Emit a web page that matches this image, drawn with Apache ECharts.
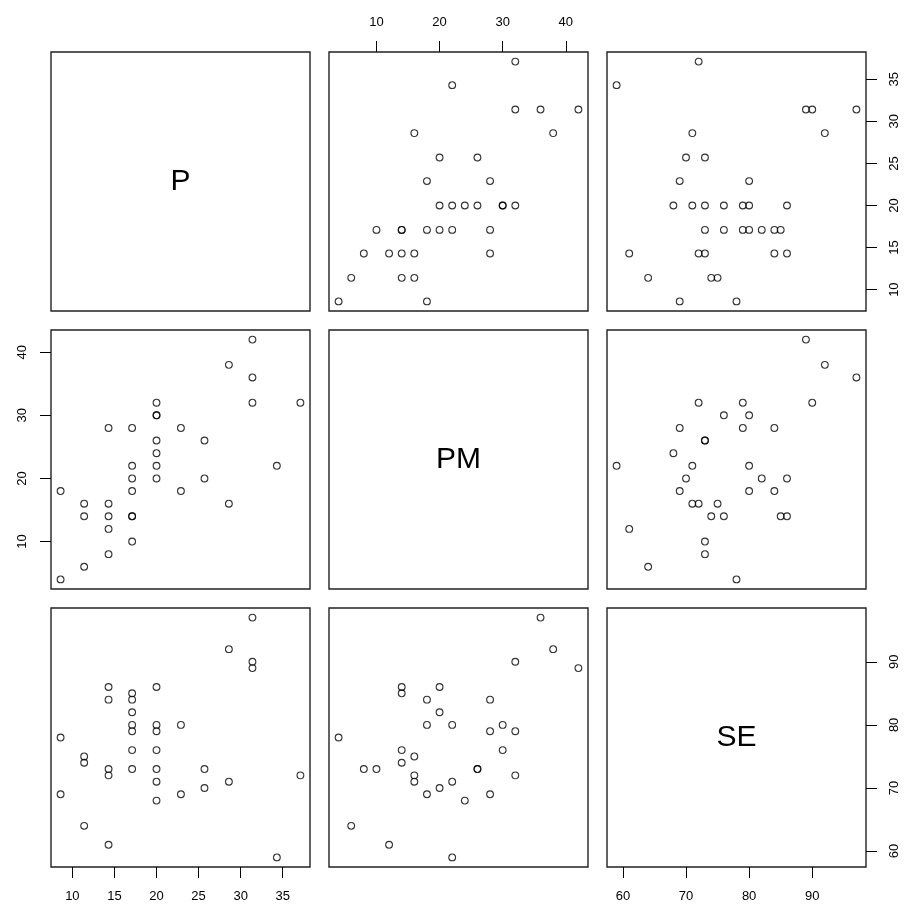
<!DOCTYPE html>
<html>
<head>
<meta charset="utf-8">
<script src="https://cdn.jsdelivr.net/npm/echarts@6/dist/echarts.min.js"></script>
<style>
html,body{margin:0;padding:0;background:#fff;}
#chart{width:905px;height:905px;}
</style>
</head>
<body>
<div id="chart"></div>
<script>
// Data (one row per observation)
const P  = [8.6, 8.6, 11.4, 11.4, 11.4, 14.3, 14.3, 14.3, 14.3, 14.3,
            17.1, 17.1, 17.1, 17.1, 17.1, 17.1, 17.1, 20, 20, 20,
            20, 20, 20, 20, 22.9, 22.9, 25.7, 25.7, 28.6, 28.6,
            31.4, 31.4, 31.4, 34.3, 37.1];
const PM = [4, 18, 6, 16, 14, 12, 8, 28, 14, 16,
            10, 14, 18, 20, 22, 28, 14, 24, 26, 32,
            20, 22, 30, 30, 28, 18, 26, 20, 38, 16,
            36, 32, 42, 22, 32];
const SE = [78, 69, 64, 75, 74, 61, 73, 84, 86, 72,
            73, 85, 84, 82, 80, 79, 76, 68, 73, 79,
            86, 71, 80, 76, 69, 80, 73, 70, 92, 71,
            97, 90, 89, 59, 72];
const varNames = ['P', 'PM', 'SE'];
const P_TICKS  = [10, 15, 20, 25, 30, 35];
const PM_TICKS = [10, 20, 30, 40];
const SE_TICKS = [60, 70, 80, 90];

const vars = [P, PM, SE];
const ticks = [P_TICKS, PM_TICKS, SE_TICKS];

// layout
const colLeft = [51, 329, 607];
const rowTop = [52, 330, 608];
const size = 259;
const FONT = 'Liberation Sans, Arial, sans-serif';

function range(arr) {
  const lo = Math.min(...arr), hi = Math.max(...arr);
  const pad = (hi - lo) * 0.04;
  return [lo - pad, hi + pad];
}
const ranges = vars.map(range);

const grid = [], xAxis = [], yAxis = [], series = [], graphic = [];
for (let r = 0; r < 3; r++) {
  for (let c = 0; c < 3; c++) {
    const idx = r * 3 + c;
    grid.push({
      left: colLeft[c], top: rowTop[r], width: size, height: size,
      show: true, borderColor: '#222', borderWidth: 1.4, backgroundColor: 'transparent'
    });
    const showX = (r === 2 && c !== 1) || (r === 0 && c === 1);
    const showY = (c === 2 && r !== 1) || (c === 0 && r === 1);
    xAxis.push({
      gridIndex: idx, type: 'value',
      min: ranges[c][0], max: ranges[c][1],
      position: r === 0 ? 'top' : 'bottom',
      axisLine: { show: false },
      splitLine: { show: false },
      axisTick: { show: showX, customValues: ticks[c], length: 11, lineStyle: { color: '#000', width: 1 } },
      axisLabel: { show: showX, customValues: ticks[c], margin: 23, fontSize: 13, color: '#000', fontFamily: FONT }
    });
    yAxis.push({
      gridIndex: idx, type: 'value',
      min: ranges[r][0], max: ranges[r][1],
      position: c === 0 ? 'left' : 'right',
      axisLine: { show: false },
      splitLine: { show: false },
      axisTick: { show: showY, customValues: ticks[r], length: 11, lineStyle: { color: '#000', width: 1 } },
      axisLabel: { show: showY, customValues: ticks[r], rotate: 90, margin: 22, fontSize: 13, color: '#000', fontFamily: FONT }
    });
    if (r === c) {
      graphic.push({
        type: 'text',
        x: colLeft[c] + size / 2, y: rowTop[r] + size / 2,
        style: { text: varNames[r], fontSize: 30, fontFamily: FONT, fill: '#000',
                 textAlign: 'center', textVerticalAlign: 'middle' }
      });
    } else {
      const xs = vars[c], ys = vars[r];
      series.push({
        type: 'scatter', xAxisIndex: idx, yAxisIndex: idx,
        data: xs.map((v, i) => [v, ys[i]]),
        symbol: 'circle', symbolSize: 6.8,
        itemStyle: { color: 'rgba(0,0,0,0)', borderColor: '#000', borderWidth: 1.1 },
        emphasis: { disabled: true },
        silent: true
      });
    }
  }
}

const chart = echarts.init(document.getElementById('chart'), null, { renderer: 'canvas' });
chart.setOption({
  animation: false,
  backgroundColor: '#fff',
  grid, xAxis, yAxis, series, graphic
});
</script>
</body>
</html>
